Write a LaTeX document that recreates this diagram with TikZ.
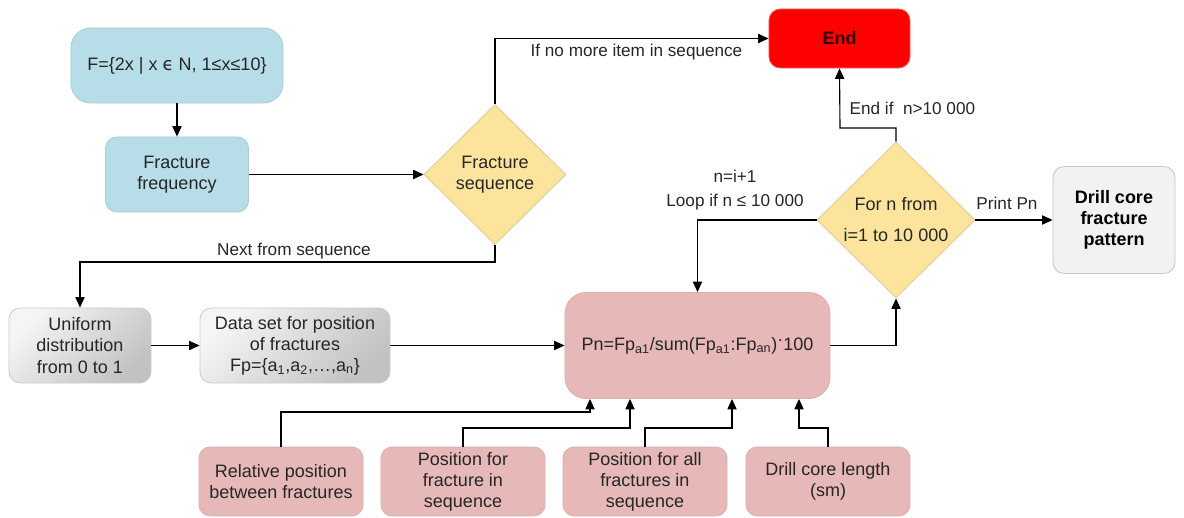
\documentclass[tikz,border=0pt]{standalone}
\usepackage{fontspec}
\setmainfont{Liberation Sans}
\newfontfamily\symfont{DejaVu Sans}
\usetikzlibrary{shapes.geometric,arrows.meta}
\definecolor{boxblue}{HTML}{B7DDE8}
\definecolor{blueline}{HTML}{A9CCD6}
\definecolor{decide}{HTML}{FDE49D}
\definecolor{decideline}{HTML}{DCCB98}
\definecolor{rose}{HTML}{E6B9B8}
\definecolor{roseline}{HTML}{DDB0AF}
\definecolor{endred}{HTML}{FF0000}
\definecolor{txt}{HTML}{262626}

\begin{document}
\begin{tikzpicture}[x=0.025cm,y=-0.025cm]
\tikzstyle{every node}=[font=\fontsize{12.8}{15}\selectfont, text=txt]
\tikzstyle{box}=[rectangle, rounded corners=8pt, align=center, inner sep=2pt, line width=0.6pt]
\tikzstyle{bluebox}=[box, fill=boxblue, draw=blueline]
\tikzstyle{graybox}=[box, draw=gray!40, top color=gray!8, bottom color=gray!48, shading angle=45]
\tikzstyle{rosebox}=[box, fill=rose, draw=roseline, minimum width=4.1cm, minimum height=1.725cm]
\tikzstyle{choice}=[diamond, fill=decide, draw=decideline, line width=0.6pt, inner sep=0pt, align=center]
\tikzstyle{arr}=[line width=0.8pt, -{Triangle[length=2.6mm,width=2.3mm]}]
\tikzstyle{lbl}=[font=\fontsize{12.2}{17}\selectfont, inner sep=1pt]

\useasboundingbox (0,0) rectangle (1184,518);

\node[bluebox, rounded corners=14pt, minimum width=5.3cm, minimum height=1.875cm] (F) at (177,65.5)
  {F=\{2x | x {\symfont ϵ} N, 1≤x≤10\}};
\node[bluebox, minimum width=3.575cm, minimum height=1.875cm] (freq) at (177,174.5) {Fracture\\frequency};
\node[choice, minimum width=3.55cm, minimum height=3.5cm] (seq) at (495,174.5) {Fracture\\sequence};
\node[box, fill=endred, draw=red!80!black!60, minimum width=3.525cm, minimum height=1.475cm, text=red!20!black] (end) at (839.5,38.5) {\bfseries End};

\node[graybox, minimum width=3.55cm, minimum height=1.875cm] (unif) at (80,345.5) {Uniform\\distribution\\from 0 to 1};
\node[graybox, minimum width=4.75cm, minimum height=1.875cm] (data) at (295,345.5)
  {Data set for position\\of fractures\\Fp=\{a\textsubscript{1},a\textsubscript{2},…,a\textsubscript{n}\}};
\node[box, fill=rose, draw=roseline, rounded corners=15pt, minimum width=6.625cm, minimum height=2.65cm] (pn) at (697.5,345.5)
  {Pn=Fp\textsubscript{a1}/sum(Fp\textsubscript{a1}:Fp\textsubscript{an})\raisebox{.45ex}{·}100};

\node[choice, minimum width=3.95cm, minimum height=3.9cm] (loop) at (896,220) {For n from\\[7pt]i=1 to 10 000};
\node[box, fill=gray!10, draw=gray!45, minimum width=3.05cm, minimum height=2.675cm, text=black] (drill) at (1114,220)
  {\bfseries Drill core\\\bfseries fracture\\\bfseries pattern};

\foreach \i/\x/\t in {1/281/{Relative position\\between fractures}, 2/463/{Position for\\fracture in\\sequence},
  3/645/{Position for all\\fractures in\\sequence}, 4/828/{Drill core length\\(sm)}} {
\node[rosebox] (b\i) at (\x,481.5) {\t};
}

\coordinate (nx) at (80,262);
\coordinate (ex) at (840,128);

\draw[arr] (F) -- (freq);
\draw[arr] (freq) -- (seq);
\draw[arr] (seq.north) |- (end.west);
\draw[arr] (seq.south) |- (nx) -- (unif.north);
\draw[arr] (unif) -- (data);
\draw[arr] (data) -- (pn);
\draw[arr] (pn.east) -| (loop.south);
\draw[arr] (loop.north) |- (ex) -- (end.south);
\draw[arr] (loop.west) -| (pn.north);
\draw[arr] (loop.east) -- (drill.west);

\foreach \i/\x/\y in {1/590/412, 2/630/428, 3/732/428, 4/799/428} {
\coordinate (k\i) at (\x,\y);
\draw[arr] (b\i.north) |- (k\i) -- (k\i |- pn.south);
}

\node[lbl, anchor=east] (l1) at (744,52) {If no more item in sequence};
\node[lbl] (l2) at (294,251) {Next from sequence};
\node[lbl, anchor=west] (l3) at (848,108) {End if\ \ n>10 000};
\node[lbl, align=center] (l4) at (735,190) {n=i+1\\Loop if n ≤ 10 000};
\node[lbl] (l5) at (1007,203) {Print Pn};

\end{tikzpicture}
\end{document}
